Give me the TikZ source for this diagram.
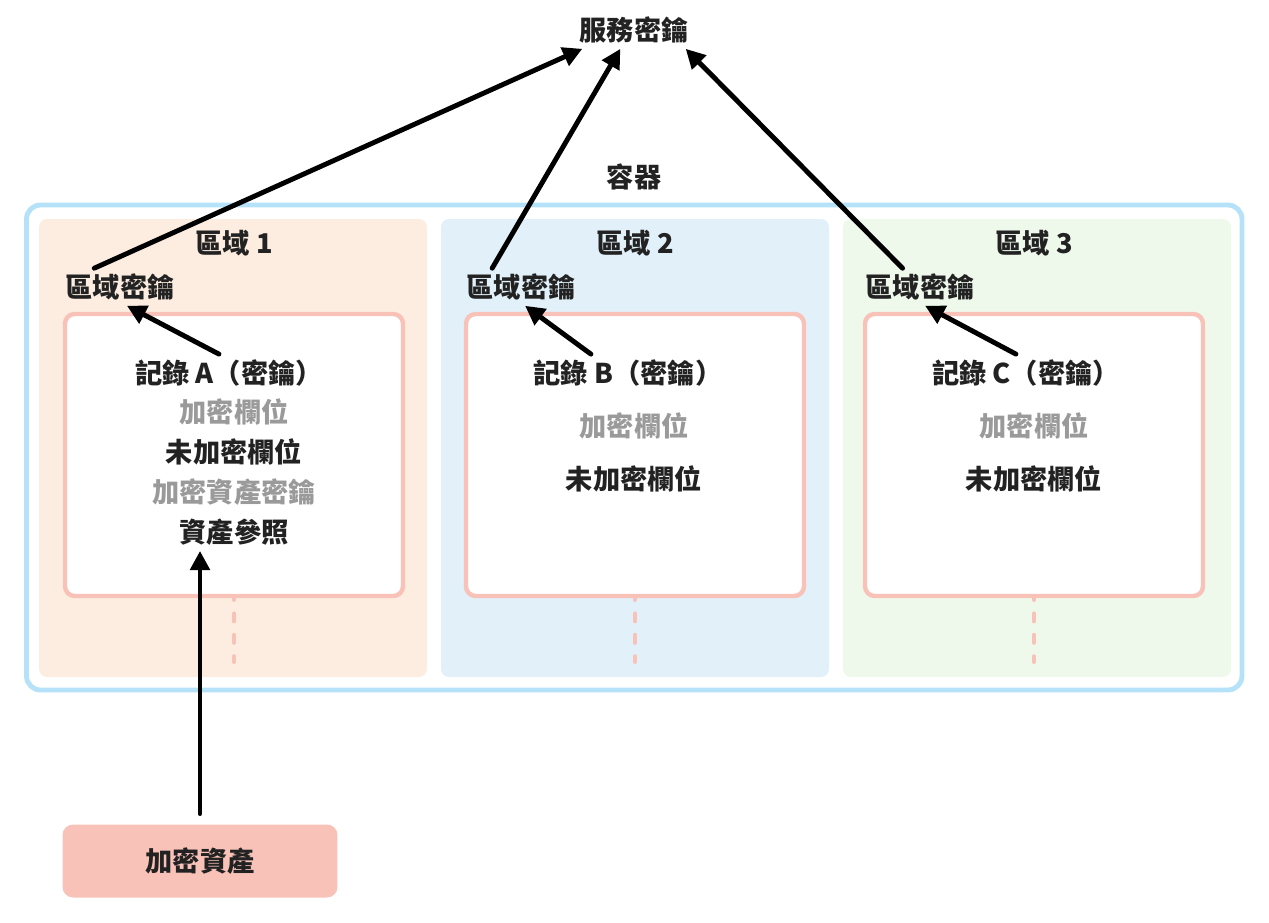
\documentclass[tikz,border=0pt]{standalone}
\usepackage{fontspec}
\setmainfont{Noto Sans CJK TC}
\usetikzlibrary{arrows.meta}
\definecolor{ctnblue}{HTML}{B5E2F8}
\definecolor{zonepeach}{HTML}{FDEDE1}
\definecolor{zoneblue}{HTML}{E1F0F9}
\definecolor{zonegreen}{HTML}{EEF9EC}
\definecolor{recpink}{HTML}{F9C2B9}
\definecolor{txtgray}{HTML}{9A9A9A}
\definecolor{txtdark}{HTML}{222222}

\begin{document}
\begin{tikzpicture}[line cap=round,line join=round,>={Triangle[length=11pt,width=11pt]},x=0.02cm,y=-0.02cm,
    lbl/.style={font=\fontsize{15.5pt}{18pt}\selectfont\bfseries,text=txtdark,inner sep=3pt},
    graylbl/.style={lbl,text=txtgray},
    conn/.style={->,line width=2.8pt,black}]
		\useasboundingbox (0,0) rectangle (1269,923);
		% container
		\draw [ctnblue,line width=2.8pt,rounded corners=8pt] (26.5,205) rectangle (1242,690);
		\node[lbl] (ctn) at (634,177) {容器};
		\node[lbl] (srvkey) at (634,30) {服務密鑰};
		% zones
		\foreach \i/\l/\b/\c in {1/39/65/zonepeach,2/441/466/zoneblue,3/843/865/zonegreen}{
			\fill [\c,rounded corners=4.5pt] (\l,219) rectangle (\l+388,677);
			\draw [recpink,line width=2.27pt,dash pattern=on 4.54pt off 7.65pt] (\b+169,592) -- (\b+169,662);
			\draw [recpink,fill=white,line width=2.5pt,rounded corners=5.5pt] (\b,314) rectangle (\b+338,596);
			\node[lbl] (zone\i) at (\b+169,243) {區域 \i};
			\node[lbl,anchor=west] (zkey\i) at (\b-5,287) {區域密鑰};
		}
		% records
		\node[lbl] (rec1) at (229,373) {記錄 A（密鑰）};
		\node[graylbl] (encf1) at (234,412) {加密欄位};
		\node[lbl] (plainf1) at (234,452) {未加密欄位};
		\node[graylbl] (enckey1) at (234,492) {加密資產密鑰};
		\node[lbl] (aref) at (234,532) {資產參照};
		\node[lbl] (rec2) at (628,373) {記錄 B（密鑰）};
		\node[graylbl] (encf2) at (634,426) {加密欄位};
		\node[lbl] (plainf2) at (634,479) {未加密欄位};
		\node[lbl] (rec3) at (1026,373) {記錄 C（密鑰）};
		\node[graylbl] (encf3) at (1034,426) {加密欄位};
		\node[lbl] (plainf3) at (1034,479) {未加密欄位};
		% asset
		\node[lbl,fill=recpink,rounded corners=6pt,minimum width=5.5cm,minimum height=1.46cm] (asset) at (200,861) {加密資產};
		% arrows
		\draw [conn] (zkey1.144) -- (srvkey.200);
		\draw [conn] (zkey2.147) -- (srvkey.234);
		\draw [conn] (zkey3.133) -- (srvkey.340);
		\draw [conn] (rec1.118) -- (zkey1.290);
		\draw [conn] (rec2.153) -- (zkey2.282);
		\draw [conn] (rec3.118) -- (zkey3.285);
		\draw [conn,shorten <=6pt] (asset.north) -- (asset.north |- aref.south);
\end{tikzpicture}
\end{document}
